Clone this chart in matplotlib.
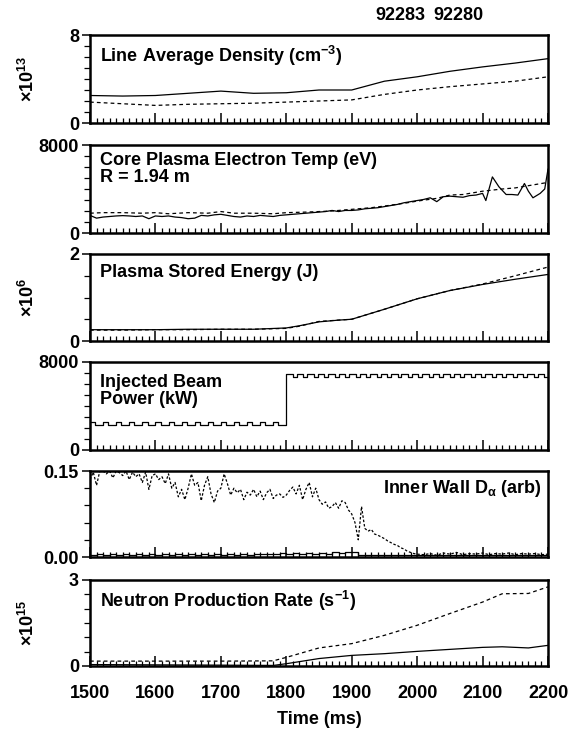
import numpy as np
import matplotlib
matplotlib.use('Agg')
import matplotlib.pyplot as plt
from matplotlib import font_manager
from matplotlib.ticker import MultipleLocator

# ---- data ----
shots = ['92283', '92280']

# line average density, x1e13 cm^-3
ne_t = [1500, 1550, 1600, 1650, 1700, 1750, 1800, 1850, 1900, 1950, 2000, 2050, 2100, 2150, 2200]
ne_solid = [2.5, 2.45, 2.5, 2.7, 2.9, 2.7, 2.75, 3.0, 3.0, 3.8, 4.2, 4.7, 5.1, 5.45, 5.85]
ne_dash = [1.9, 1.75, 1.6, 1.7, 1.75, 1.8, 1.9, 2.0, 2.1, 2.6, 3.0, 3.3, 3.55, 3.8, 4.2]

# core electron temperature, eV
te_t = [1500, 1510, 1520, 1530, 1540, 1550, 1560, 1570, 1580, 1590, 1600, 1610, 1620, 1630,
        1640, 1650, 1660, 1670, 1680, 1690, 1700, 1710, 1720, 1730, 1740, 1750, 1760, 1770,
        1780, 1790, 1800, 1810, 1820, 1830, 1840, 1850, 1860, 1870, 1880, 1890, 1900, 1910,
        1920, 1930, 1940, 1950, 1960, 1970, 1980, 1990, 2000, 2010, 2020, 2030, 2040, 2050,
        2060, 2070, 2080, 2090, 2100, 2105, 2115, 2125, 2136, 2145, 2154, 2164, 2170, 2177,
        2188, 2195, 2200]
te_solid = [1600, 1350, 1450, 1500, 1550, 1580, 1550, 1500, 1550, 1300, 1550, 1500, 1550, 1450,
            1400, 1300, 1350, 1600, 1550, 1650, 1700, 1600, 1500, 1450, 1550, 1500, 1600, 1550,
            1500, 1600, 1650, 1700, 1750, 1800, 1850, 1900, 1950, 2050, 1950, 2050, 2050, 2100,
            2200, 2250, 2300, 2400, 2500, 2600, 2750, 2850, 2950, 3050, 3200, 2850, 3300, 3350,
            3300, 3250, 3400, 3450, 3600, 2950, 5100, 4200, 3500, 3500, 3450, 4500, 3800, 3200,
            3600, 4000, 5800]
te_dt = [1500, 1520, 1550, 1580, 1600, 1620, 1650, 1680, 1700, 1720, 1750, 1780, 1800, 1830,
         1850, 1870, 1900, 1930, 1950, 1980, 2000, 2030, 2050, 2070, 2100, 2130, 2150, 2170, 2200]
te_dash = [1800, 1850, 1850, 1800, 1850, 1750, 1850, 1800, 1950, 1800, 1800, 1750, 1850, 1900,
           1950, 2000, 2150, 2300, 2450, 2700, 2900, 3150, 3450, 3500, 3800, 4000, 4100, 4300, 4600]

# stored energy, x1e6 J
w_t = [1500, 1550, 1600, 1650, 1700, 1750, 1800, 1820, 1850, 1880, 1900, 1950, 2000, 2050, 2100, 2150, 2200]
w_solid = [0.26, 0.26, 0.26, 0.27, 0.27, 0.27, 0.3, 0.35, 0.44, 0.48, 0.5, 0.73, 0.97, 1.16, 1.3, 1.42, 1.53]
w_dash = [0.25, 0.25, 0.26, 0.26, 0.27, 0.27, 0.29, 0.34, 0.45, 0.48, 0.5, 0.73, 0.97, 1.16, 1.31, 1.5, 1.7]

# injected beam power, kW (step edges)
beam_t = [1500, 1508, 1520, 1528, 1540, 1548, 1560, 1568, 1580, 1588, 1600, 1608, 1620, 1628,
          1640, 1648, 1660, 1668, 1680, 1688, 1700, 1708, 1720, 1728, 1740, 1748, 1760, 1768,
          1780, 1788, 1800, 1810, 1816, 1826, 1832, 1842, 1848, 1858, 1864, 1874, 1880, 1890,
          1896, 1906, 1912, 1922, 1928, 1938, 1944, 1954, 1960, 1970, 1976, 1986, 1992, 2002,
          2008, 2018, 2024, 2034, 2040, 2050, 2056, 2066, 2072, 2082, 2088, 2098, 2104, 2114,
          2120, 2130, 2136, 2146, 2152, 2162, 2168, 2178, 2184, 2194, 2200]
beam_kw = [2550, 2250, 2550, 2250, 2550, 2250, 2550, 2250, 2550, 2250, 2550, 2250, 2550, 2250,
           2550, 2250, 2550, 2250, 2550, 2250, 2550, 2250, 2550, 2250, 2550, 2250, 2550, 2250,
           2550, 2250, 6950, 6650, 6950, 6650, 6950, 6650, 6950, 6650, 6950, 6650, 6950, 6650,
           6950, 6650, 6950, 6650, 6950, 6650, 6950, 6650, 6950, 6650, 6950, 6650, 6950, 6650,
           6950, 6650, 6950, 6650, 6950, 6650, 6950, 6650, 6950, 6650, 6950, 6650, 6950, 6650,
           6950, 6650, 6950, 6650, 6950, 6650, 6950, 6650, 6950, 6650, 6650]

# inner wall D-alpha, arb
da_t = list(range(1500, 2000, 5)) + list(range(2000, 2210, 10))
da_dash = [0.135, 0.148, 0.125, 0.15, 0.15, 0.145, 0.15, 0.138, 0.15, 0.147,
           0.142, 0.15, 0.135, 0.148, 0.14, 0.145, 0.13, 0.148, 0.118, 0.142,
           0.145, 0.135, 0.14, 0.128, 0.145, 0.12, 0.13, 0.105, 0.118, 0.1,
           0.12, 0.145, 0.125, 0.13, 0.098, 0.125, 0.14, 0.11, 0.095, 0.115,
           0.12, 0.145, 0.128, 0.108, 0.12, 0.112, 0.118, 0.1, 0.113, 0.108,
           0.118, 0.105, 0.115, 0.1, 0.112, 0.118, 0.102, 0.108, 0.11, 0.104,
           0.108, 0.116, 0.122, 0.11, 0.125, 0.1, 0.118, 0.13, 0.105, 0.12,
           0.1, 0.092, 0.096, 0.085, 0.088, 0.095, 0.085, 0.098, 0.095, 0.082,
           0.075, 0.06, 0.03, 0.088, 0.05, 0.045, 0.048, 0.04, 0.038, 0.035,
           0.032, 0.028, 0.025, 0.022, 0.02, 0.016, 0.014, 0.01, 0.008, 0.006,
           0.005, 0.004, 0.006, 0.003, 0.007, 0.005, 0.008, 0.004, 0.006, 0.005, 0.007,
           0.004, 0.006, 0.005, 0.007, 0.004, 0.006, 0.005, 0.006, 0.004, 0.005]
das_t = list(range(1500, 2210, 10))
da_solid = [0.004, 0.006, 0.004, 0.006, 0.004, 0.006, 0.004, 0.006, 0.004, 0.006,
            0.004, 0.006, 0.004, 0.006, 0.004, 0.006, 0.004, 0.006, 0.004, 0.006,
            0.004, 0.006, 0.004, 0.006, 0.004, 0.006, 0.005, 0.006, 0.005, 0.007,
            0.005, 0.007, 0.005, 0.007, 0.006, 0.007, 0.006, 0.008, 0.007, 0.009,
            0.009, 0.003, 0.004, 0.003, 0.004, 0.003, 0.004, 0.003, 0.004, 0.003,
            0.004, 0.003, 0.004, 0.003, 0.004, 0.003, 0.004, 0.003, 0.004, 0.003,
            0.004, 0.003, 0.004, 0.003, 0.004, 0.003, 0.004, 0.003, 0.004, 0.003, 0.004]

# neutron rate, x1e15 s^-1
sn_t = [1500, 1600, 1700, 1780, 1800, 1850, 1900, 1950, 2000, 2050, 2100, 2130, 2170, 2200]
sn_solid = [0.05, 0.04, 0.03, 0.02, 0.08, 0.26, 0.37, 0.43, 0.51, 0.58, 0.65, 0.67, 0.63, 0.72]
sn_dash = [0.17, 0.17, 0.17, 0.18, 0.3, 0.63, 0.78, 1.07, 1.42, 1.83, 2.23, 2.52, 2.53, 2.76]

# ---- style ----
names = {f.name for f in font_manager.fontManager.ttflist}
fam = 'Liberation Sans Narrow' if 'Liberation Sans Narrow' in names else 'Liberation Sans'
plt.rcParams['font.family'] = [fam, 'DejaVu Sans']
plt.rcParams['font.weight'] = 'bold'
plt.rcParams['axes.labelweight'] = 'bold'
plt.rcParams['mathtext.fontset'] = 'custom'
plt.rcParams['mathtext.rm'] = fam + ':bold'
plt.rcParams['mathtext.bf'] = fam + ':bold'
plt.rcParams['mathtext.it'] = fam
plt.rcParams['mathtext.default'] = 'rm'

W, H = 570, 729
fig = plt.figure(figsize=(W / 100, H / 100), dpi=100)
x0, x1 = 90, 548
boxes = [(35, 123), (145, 233), (254, 341), (362, 450), (471, 557), (580, 666)]
axes = []
for top, bot in boxes:
    axes.append(fig.add_axes([x0 / W, 1 - bot / H, (x1 - x0) / W, (bot - top) / H]))

fs = 13
lw = 0.9
dash = (0, (3, 2.5))


def style(ax, ymax, ystep, labs):
    ax.set_xlim(1500, 2200)
    ax.set_ylim(0, ymax)
    ax.xaxis.set_major_locator(MultipleLocator(100))
    ax.xaxis.set_minor_locator(MultipleLocator(10))
    ax.tick_params(axis='x', which='major', direction='in', length=7, width=1.1, labelbottom=False)
    ax.tick_params(axis='x', which='minor', direction='in', length=3.5, width=0.9)
    ax.set_yticks([0, ymax])
    ax.set_yticklabels(labs)
    ax.yaxis.set_minor_locator(MultipleLocator(ystep))
    ax.tick_params(axis='y', which='major', direction='out', length=6, width=1.1, labelsize=fs, pad=2)
    ax.tick_params(axis='y', which='minor', direction='out', length=4, width=0.9)
    for s in ax.spines.values():
        s.set_linewidth(1.8)


ax = axes[0]
ax.plot(ne_t, ne_solid, 'k-', lw=lw)
ax.plot(ne_t, ne_dash, 'k', ls=dash, lw=lw)
style(ax, 8, 1, ['0', '8'])
ax.text(0.022, 0.9, 'Line Average Density (cm$^{-3}$)', transform=ax.transAxes, fontsize=fs, va='top')

ax = axes[1]
ax.plot(te_t, te_solid, 'k-', lw=lw)
ax.plot(te_dt, te_dash, 'k', ls=dash, lw=lw)
style(ax, 8000, 1000, ['0', '8000'])
ax.text(0.022, 0.92, 'Core Plasma Electron Temp (eV)\nR = 1.94 m', transform=ax.transAxes,
        fontsize=fs, va='top', linespacing=1.0)

ax = axes[2]
ax.plot(w_t, w_solid, 'k-', lw=lw)
ax.plot(w_t, w_dash, 'k', ls=dash, lw=lw)
style(ax, 2, 0.5, ['0', '2'])
ax.text(0.022, 0.88, 'Plasma Stored Energy (J)', transform=ax.transAxes, fontsize=fs, va='top')

ax = axes[3]
ax.plot(beam_t, beam_kw, 'k-', lw=lw, drawstyle='steps-post')
style(ax, 8000, 1000, ['0', '8000'])
ax.text(0.022, 0.86, 'Injected Beam\nPower (kW)', transform=ax.transAxes, fontsize=fs, va='top',
        linespacing=1.0)

ax = axes[4]
ax.plot(da_t, da_dash, 'k', ls=(0, (2, 1.5)), lw=lw)
ax.plot(das_t, da_solid, 'k-', lw=lw, drawstyle='steps-post')
style(ax, 0.15, 0.03, ['0.00', '0.15'])
ax.text(0.985, 0.8, r'Inner Wall D$_{\alpha}$ (arb)', transform=ax.transAxes, fontsize=fs,
        va='center', ha='right')

ax = axes[5]
ax.plot(sn_t, sn_solid, 'k-', lw=lw)
ax.plot(sn_t, sn_dash, 'k', ls=dash, lw=lw)
style(ax, 3, 0.5, ['0', '3'])
ax.text(0.022, 0.9, 'Neutron Production Rate (s$^{-1}$)', transform=ax.transAxes, fontsize=fs, va='top')
ax.tick_params(axis='x', which='major', labelbottom=True, labelsize=fs, pad=14)
ax.set_xlabel('Time (ms)', fontsize=fs, labelpad=6)

# multipliers on the left
for i, txt in [(0, r'$\times$10$^{13}$'), (2, r'$\times$10$^{6}$'), (5, r'$\times$10$^{15}$')]:
    top, bot = boxes[i]
    fig.text(28 / W, 1 - (top + bot) / 2 / H, txt, rotation=90, ha='center', va='center', fontsize=fs)

fig.text(400 / W, 1 - 15 / H, shots[0], ha='center', va='center', fontsize=fs)
fig.text(458 / W, 1 - 15 / H, shots[1], ha='center', va='center', fontsize=fs)

fig.savefig('out.png', dpi=100)
